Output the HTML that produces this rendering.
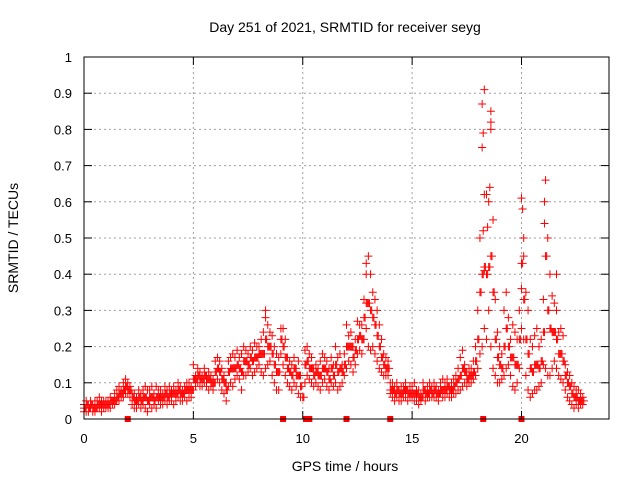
<!DOCTYPE html>
<html><head><meta charset="utf-8"><style>
html,body{margin:0;padding:0;background:#fff}
svg{display:block;font-family:"Liberation Sans",sans-serif}
</style></head><body>
<svg id="chart" width="640" height="480" viewBox="0 0 640 480">
<rect x="0" y="0" width="640" height="480" fill="#fff"/>
<g id="grid"></g>
<g id="points"></g>
<g id="axes"></g>
<text x="345" y="32" text-anchor="middle" font-size="14" fill="#000">Day 251 of 2021, SRMTID for receiver seyg</text>
<text x="345" y="471" text-anchor="middle" font-size="14" fill="#000">GPS time / hours</text>
<text transform="translate(18,238) rotate(-90)" text-anchor="middle" font-size="14" fill="#000">SRMTID / TECUs</text>
</svg>
<script>
const xTicks = [0,5,10,15,20];
const yTicks = [0,0.1,0.2,0.3,0.4,0.5,0.6,0.7,0.8,0.9,1];
const yTickLabels = ["0","0.1","0.2","0.3","0.4","0.5","0.6","0.7","0.8","0.9","1"];
const bandHours = [0,0.1,0.2,0.3,0.4,0.5,0.6,0.7,0.8,0.9,1,1.1,1.2,1.3,1.4,1.5,1.6,1.7,1.8,1.9,2,2.1,2.2,2.3,2.4,2.5,2.6,2.7,2.8,2.9,3,3.1,3.2,3.3,3.4,3.5,3.6,3.7,3.8,3.9,4,4.1,4.2,4.3,4.4,4.5,4.6,4.7,4.8,4.9,5,5.1,5.2,5.3,5.4,5.5,5.6,5.7,5.8,5.9,6,6.1,6.2,6.3,6.4,6.5,6.6,6.7,6.8,6.9,7,7.1,7.2,7.3,7.4,7.5,7.6,7.7,7.8,7.9,8,8.1,8.2,8.3,8.4,8.5,8.6,8.7,8.8,8.9,9,9.1,9.2,9.3,9.4,9.5,9.6,9.7,9.8,9.9,10,10.1,10.2,10.3,10.4,10.5,10.6,10.7,10.8,10.9,11,11.1,11.2,11.3,11.4,11.5,11.6,11.7,11.8,11.9,12,12.1,12.2,12.3,12.4,12.5,12.6,12.7,12.8,12.9,13,13.1,13.2,13.3,13.4,13.5,13.6,13.7,13.8,13.9,14,14.1,14.2,14.3,14.4,14.5,14.6,14.7,14.8,14.9,15,15.1,15.2,15.3,15.4,15.5,15.6,15.7,15.8,15.9,16,16.1,16.2,16.3,16.4,16.5,16.6,16.7,16.8,16.9,17,17.1,17.2,17.3,17.4,17.5,17.6,17.7,17.8,17.9,18,18.1,18.2,18.3,18.4,18.5,18.6,18.7,18.8,18.9,19,19.1,19.2,19.3,19.4,19.5,19.6,19.7,19.8,19.9,20,20.1,20.2,20.3,20.4,20.5,20.6,20.7,20.8,20.9,21,21.1,21.2,21.3,21.4,21.5,21.6,21.7,21.8,21.9,22,22.1,22.2,22.3,22.4,22.5,22.6,22.7,22.8];
const bandHigh = [.04,.05,.04,.05,.04,.05,.05,.06,.05,.05, .05,.05,.06,.05,.07,.08,.09,.08,.10,.11, .10,.09,.07,.07,.06,.08,.07,.08,.09,.08, .08,.09,.07,.09,.08,.08,.07,.09,.08,.09, .08,.09,.08,.10,.09,.08,.09,.10,.10,.09, .15,.12,.14,.13,.12,.14,.12,.13,.12,.11, .16,.17,.16,.14,.12,.10,.16,.17,.18,.17, .19,.17,.18,.20,.19,.18,.20,.19,.21,.20, .20,.22,.24,.30,.26,.24,.23,.20,.18,.17, .25,.25,.22,.17,.16,.15,.17,.14,.16,.12, .06,.19,.20,.18,.17,.14,.15,.14,.16,.18, .17,.16,.14,.17,.15,.20,.17,.18,.15,.18, .26,.23,.24,.20,.22,.27,.26,.26,.33,.40, .45,.40,.35,.33,.30,.26,.22,.18,.17,.16, .10,.10,.09,.10,.08,.09,.09,.10,.08,.09, .09,.10,.08,.08,.07,.10,.08,.09,.10,.09, .10,.09,.08,.10,.11,.10,.11,.09,.10,.11, .12,.14,.17,.19,.15,.13,.14,.14,.16,.20, .30,.50,.75,.91,.62,.60,.85,.55,.33,.24, .20,.18,.30,.35,.28,.22,.26,.24,.22,.30, .61,.45,.35,.30,.22,.20,.23,.25,.20,.22, .33,.66,.50,.40,.34,.32,.30,.24,.25,.23, .15,.13,.12,.10,.09,.08,.08,.07,.06];
const bandMid = [.03,.04,.03,.04,.03,.03,.04,.04,.04,.04, .04,.04,.05,.05,.05,.06,.07,.07,.08,.09, .08,.08,.06,.05,.05,.06,.05,.06,.06,.05, .06,.06,.05,.06,.06,.06,.06,.07,.06,.07, .07,.07,.07,.08,.07,.07,.08,.08,.08,.08, .11,.11,.12,.11,.11,.12,.11,.11,.10,.10, .13,.14,.13,.11,.10,.08,.13,.14,.14,.14, .15,.14,.13,.16,.16,.15,.17,.16,.17,.17, .18,.18,.18,.22,.20,.20,.18,.15,.13,.13, .22,.20,.17,.14,.13,.12,.14,.12,.12,.09, .06,.15,.16,.14,.14,.12,.13,.12,.12,.14, .14,.13,.11,.14,.12,.15,.13,.14,.13,.15, .20,.20,.20,.17,.19,.22,.23,.22,.28,.32, .32,.30,.28,.26,.23,.20,.17,.15,.14,.14, .08,.08,.07,.08,.07,.07,.08,.08,.07,.07, .07,.07,.07,.06,.06,.08,.07,.07,.08,.07, .08,.07,.07,.08,.08,.08,.09,.08,.08,.09, .10,.11,.12,.14,.13,.11,.12,.12,.13,.16, .22,.35,.40,.42,.40,.42,.45,.35,.22,.17, .15,.14,.20,.25,.20,.17,.17,.15,.15,.22, .43,.33,.22,.18,.14,.13,.15,.15,.14,.16, .24,.45,.30,.25,.24,.24,.22,.18,.18,.16, .12,.10,.09,.07,.06,.06,.05,.05,.05];
const bandLow = [.02,.02,.02,.03,.02,.02,.03,.03,.02,.03, .03,.03,.03,.04,.04,.05,.05,.06,.06,.07, .07,.06,.04,.03,.03,.04,.03,.04,.03,.02, .04,.03,.04,.03,.05,.04,.04,.05,.04,.05, .05,.04,.05,.06,.05,.05,.06,.05,.06,.06, .08,.09,.10,.09,.09,.10,.09,.08,.09,.08, .10,.11,.10,.08,.07,.05,.09,.10,.09,.11, .12,.11,.08,.12,.12,.13,.14,.12,.13,.14, .15,.13,.12,.14,.15,.16,.12,.10,.08,.08, .18,.15,.12,.10,.09,.08,.10,.09,.07,.06, .06,.10,.12,.11,.10,.09,.10,.09,.08,.10, .11,.09,.08,.10,.09,.10,.08,.09,.10,.12, .14,.16,.15,.13,.15,.18,.19,.18,.22,.25, .20,.19,.20,.18,.16,.14,.13,.12,.12,.12, .07,.06,.05,.06,.05,.05,.06,.06,.05,.06, .06,.05,.05,.04,.05,.06,.05,.06,.06,.06, .06,.06,.05,.07,.06,.06,.07,.06,.06,.07, .07,.08,.08,.09,.10,.09,.10,.10,.11,.12, .14,.18,.20,.25,.22,.30,.20,.14,.12,.10, .10,.11,.12,.14,.15,.12,.09,.08,.10,.14, .25,.22,.12,.08,.06,.07,.08,.08,.09,.10, .15,.14,.12,.12,.14,.16,.14,.12,.11,.10, .08,.06,.05,.04,.03,.04,.03,.04,.04];
const spikeHours = [18.2,18.25,18.3,18.55,18.6,18.6,18.25,20.05,20.1,21.05,21.05,21.1,12.9,8.3,18.3,18.45,20.0,21.6];
const spikeValues = [0.87,0.79,0.62,0.64,0.82,0.80,0.52,0.58,0.50,0.60,0.54,0.45,0.43,0.28,0.41,0.53,0.36,0.40];
const flagHours = [2.0,9.1,10.15,10.3,12.0,14.0,18.25,20.0];

const L=84,R=609,T=57,B=419;
const xScale = h => L + h/24*(R-L);
const yScale = v => B - v*(B-T);
const NS="http://www.w3.org/2000/svg";
function mk(tag,attrs,parent){const e=document.createElementNS(NS,tag);for(const k in attrs)e.setAttribute(k,attrs[k]);parent.appendChild(e);return e;}
const grid=document.getElementById('grid'),axes=document.getElementById('axes'),pts=document.getElementById('points');

yTicks.forEach((v,i)=>{
  const y=yScale(v);
  if(v>0&&v<1){const g=mk('line',{x1:L,x2:R,y1:y,y2:y,stroke:'#a0a0a0','stroke-dasharray':'2,3','stroke-width':1},grid);
  
  }
  const t1=mk('line',{x1:L,x2:L+8,y1:y,y2:y,stroke:'#000'},axes);
  
  
  const t2=mk('line',{x1:R-8,x2:R,y1:y,y2:y,stroke:'#000'},axes);
  
  
  const lb=mk('text',{x:72,y:y+5,'text-anchor':'end','font-size':13},axes);
  lb.textContent=yTickLabels[i];
  
  
});
xTicks.forEach(h=>{
  const x=xScale(h);
  if(h>0){const g=mk('line',{x1:x,x2:x,y1:T,y2:B,stroke:'#a0a0a0','stroke-dasharray':'2,3','stroke-width':1},grid);
  
  }
  const t1=mk('line',{x1:x,x2:x,y1:B-8,y2:B,stroke:'#000'},axes);
  
  
  const t2=mk('line',{x1:x,x2:x,y1:T,y2:T+8,stroke:'#000'},axes);
  
  
  const lb=mk('text',{x:x,y:443,'text-anchor':'middle','font-size':13},axes);
  lb.textContent=String(h);
  
  
});
const frame=mk('rect',{x:L,y:T,width:R-L,height:B-T,fill:'none',stroke:'#000','stroke-width':1},axes);



let d='';
function plus(h,v){const x=xScale(h),y=yScale(v);d+=`M${x-4},${y}h8M${x},${y-4}v8`;}
function plusOff(h,v,dx){const x=xScale(h)+dx,y=yScale(v);d+=`M${x-4},${y}h8M${x},${y-4}v8`;}
bandHours.forEach((h,i)=>{
  plus(h,bandHigh[i]);plus(h,bandLow[i]);plus(h,bandMid[i]);
  plusOff(h,bandMid[i],1.1);
});
spikeHours.forEach((h,i)=>plus(h,spikeValues[i]));
const sp=mk('path',{d:d,stroke:'#ff0000','stroke-width':1,fill:'none'},pts);



flagHours.forEach(h=>{
  const r=mk('rect',{x:xScale(h)-3,y:B-3,width:6,height:6,fill:'#ff0000'},pts);
  
  
});
</script>
</body></html>
